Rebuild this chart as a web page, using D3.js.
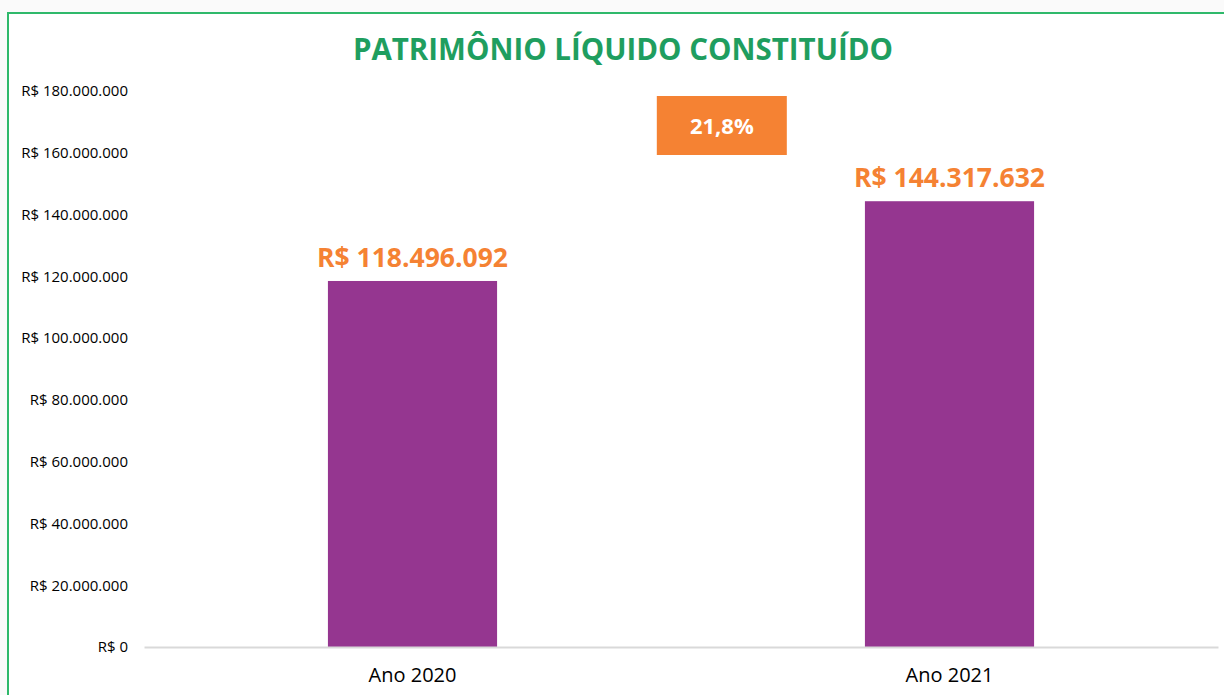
<!DOCTYPE html>
<html>
<head>
<meta charset="utf-8">
<script src="https://cdn.jsdelivr.net/npm/d3@7"></script>
<style>
  body { margin: 0; background: #fafafa; }
  text { font-family: "Open Sans", "Noto Sans", sans-serif; }
</style>
</head>
<body>
<div id="chart"></div>
<script>
const categories = ["Ano 2020", "Ano 2021"];
const values = [118496092, 144317632];
const valueLabels = ["R$ 118.496.092", "R$ 144.317.632"];
const growthLabel = "21,8%";
const yTicks = [0, 20000000, 40000000, 60000000, 80000000, 100000000, 120000000, 140000000, 160000000, 180000000];

const W = 1224, H = 695;
const margin = { top: 91, right: 6, bottom: 48, left: 144 };
const width = W - margin.left - margin.right;
const height = H - margin.top - margin.bottom;

const svg = d3.select("#chart").append("svg")
    .attr("width", W)
    .attr("height", H);

// chart frame
svg.append("rect")
    .attr("x", 8).attr("y", 13)
    .attr("width", W + 10).attr("height", H + 10)
    .attr("fill", "#ffffff")
    .attr("stroke", "#2fb96b")
    .attr("stroke-width", 2);

svg.append("text")
    .attr("x", 623)
    .attr("y", 60)
    .attr("text-anchor", "middle")
    .attr("fill", "#1f9e5f")
    .style("font-size", "29.5px")
    .style("font-weight", "700")
    .text("PATRIMÔNIO LÍQUIDO CONSTITUÍDO");

const g = svg.append("g")
    .attr("transform", "translate(" + margin.left + "," + margin.top + ")");

const x = d3.scaleBand()
    .domain(categories)
    .range([0, width])
    .paddingInner(0.685)
    .paddingOuter(0.3425);

const y = d3.scaleLinear()
    .domain([0, 180000000])
    .range([height, 0]);

const fmt = d => "R$ " + d3.format(",")(d).replace(/,/g, ".");

const yAxis = g.append("g")
    .call(d3.axisLeft(y).tickValues(yTicks).tickFormat(fmt).tickSize(0).tickPadding(16));
yAxis.select(".domain").remove();
yAxis.selectAll("text")
    .attr("fill", "#000")
    .style("font-size", "15px")
    .style("font-family", "'Open Sans', 'Noto Sans', sans-serif");

g.selectAll(".bar")
    .data(values)
    .enter().append("rect")
    .attr("class", "bar")
    .attr("x", (d, i) => x(categories[i]))
    .attr("y", d => y(d))
    .attr("width", x.bandwidth())
    .attr("height", d => height - y(d))
    .attr("fill", "#953690");

const xAxis = g.append("g")
    .attr("transform", "translate(0," + height + ")")
    .call(d3.axisBottom(x).tickSize(0).tickPadding(21));
xAxis.select(".domain").attr("stroke", "#d9d9d9").attr("stroke-width", 2);
xAxis.selectAll("text")
    .attr("fill", "#000")
    .style("font-size", "20px")
    .style("font-family", "'Open Sans', 'Noto Sans', sans-serif");

g.selectAll(".vlabel")
    .data(values)
    .enter().append("text")
    .attr("class", "vlabel")
    .attr("x", (d, i) => x(categories[i]) + x.bandwidth() / 2)
    .attr("y", d => y(d) - 14)
    .attr("text-anchor", "middle")
    .attr("fill", "#f58233")
    .style("font-size", "26.5px")
    .style("font-weight", "700")
    .text((d, i) => valueLabels[i]);

// growth badge
const bx = width * 0.538;
g.append("rect")
    .attr("x", bx - 65)
    .attr("y", 5)
    .attr("width", 130)
    .attr("height", 59)
    .attr("fill", "#f58233");
g.append("text")
    .attr("x", bx)
    .attr("y", 43)
    .attr("text-anchor", "middle")
    .attr("fill", "#ffffff")
    .style("font-size", "22px")
    .style("font-weight", "700")
    .text(growthLabel);
</script>
</body>
</html>
